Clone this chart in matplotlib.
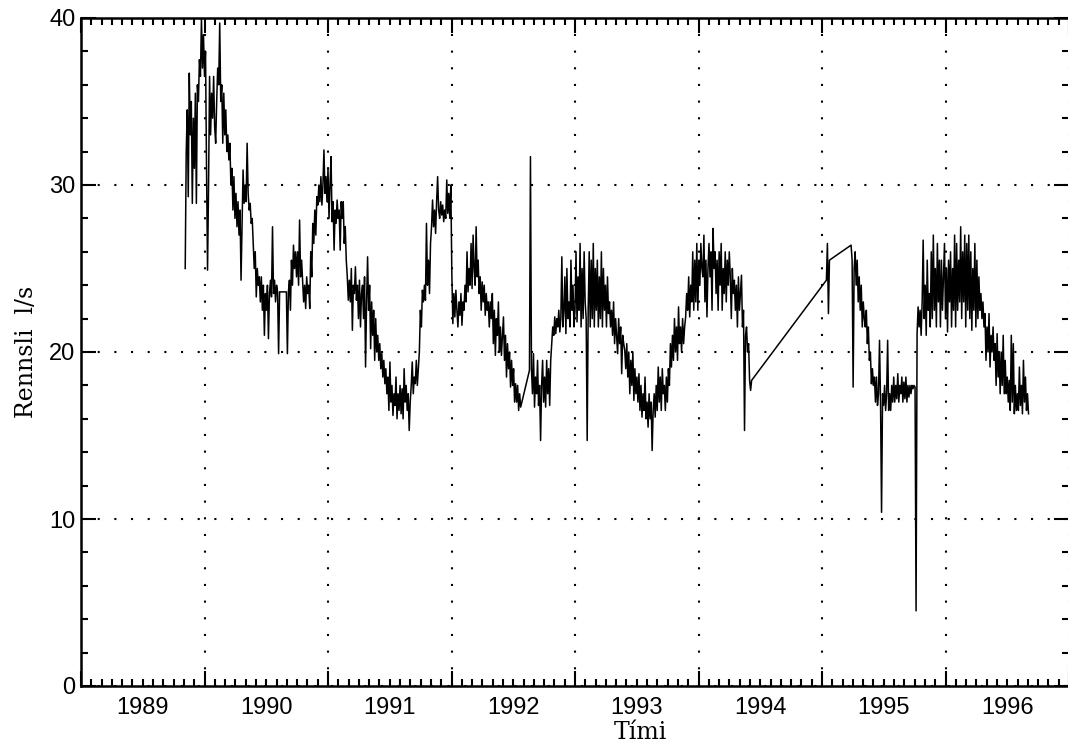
import numpy as np
import pandas as pd
import matplotlib
matplotlib.use("Agg")
import matplotlib.pyplot as plt

# rennsli (l/s), one reading every 3 days, split where the record has gaps
start_1 = "1989-11-05"
flow_1 = [25.0, 32.0, 34.5, 29.3, 36.7, 33.0, 35.0, 28.9, 34.0, 31.0, 35.5, 28.9, 36.0, 35.0,
          37.5, 36.5, 40.0, 37.0, 39.0, 36.5, 38.0, 31.0, 24.9, 30.0, 36.5, 33.0, 35.5, 34.0,
          36.5, 33.5, 32.5, 35.0, 37.0, 36.0, 39.7, 35.0, 36.0, 32.5, 35.5, 33.0, 34.5, 32.0,
          33.0, 31.5, 32.5, 30.0, 31.0, 28.5, 30.5, 28.0, 29.5, 27.5, 29.0, 27.0, 28.5, 24.3,
          27.5, 30.9, 28.9, 30.0, 29.0, 32.5, 29.5, 28.5, 28.9, 27.7, 28.0, 26.5, 25.0, 26.0,
          23.3, 25.0, 24.0, 24.5, 23.0, 24.5, 22.5, 24.0, 21.0, 23.5, 22.5, 24.0, 20.8, 23.5,
          24.3, 23.3, 27.5, 23.5, 24.3, 23.0, 24.0, 23.6, 19.9, 23.6]

start_2 = "1990-08-31"
flow_2 = [23.6, 19.9, 23.6, 24.3, 22.5, 25.5, 24.0, 26.4, 25.0, 26.0, 24.5, 26.0, 24.0,
          27.9, 24.5, 25.5, 24.3, 23.0, 24.0, 22.6, 24.5, 23.5, 24.0,
          22.6, 26.0, 24.5, 27.7, 26.5, 28.5, 27.0, 29.3, 28.8, 30.0,
          29.0, 30.5, 28.8, 30.0, 32.1, 29.5, 30.5, 29.0, 31.0, 28.0,
          30.0, 31.7, 27.8, 29.0, 26.1, 28.5, 27.7, 29.1, 28.0, 28.5,
          26.1, 29.0, 28.0, 29.0, 26.5, 27.5, 25.5, 24.5, 23.1, 24.3,
          23.0, 25.0, 21.3, 24.0, 23.5, 25.1, 23.1, 24.0, 22.0, 24.3,
          21.5, 23.5, 24.0, 22.0, 24.5, 19.1, 23.0, 25.7, 22.5, 24.0,
          20.2, 23.0, 21.0, 22.5, 19.5, 22.0, 20.0, 21.0, 19.5, 20.5,
          19.0, 19.9, 18.5, 19.5, 18.1, 19.0, 17.5, 18.5, 16.5, 19.4,
          17.0, 18.0, 16.2, 17.5, 16.8, 18.5, 16.0, 17.5, 16.5, 18.0,
          16.3, 17.8, 16.0, 19.0, 17.0, 18.0, 16.5, 17.5, 15.3, 17.0,
          18.0, 19.4, 17.5, 18.5, 18.1, 19.5, 18.0, 19.0, 20.0, 22.5,
          21.5, 23.7, 23.0, 24.0, 23.1, 27.7, 24.0, 25.5, 23.5, 26.5,
          27.5, 29.1, 27.5, 28.5, 27.1, 29.0, 30.5, 28.5, 28.0, 29.0,
          28.2, 28.8, 27.8, 28.5, 28.0, 30.3, 28.3, 29.5, 28.0, 30.0,
          24.7, 21.7, 23.5, 22.1, 23.7, 22.5, 21.5, 23.0, 22.2, 23.5,
          21.6, 23.0, 22.5, 24.0, 23.0, 26.0, 23.6, 25.0, 24.0, 26.5,
          23.8, 27.0, 25.0, 24.0, 27.5, 24.5, 25.5, 23.5, 24.5, 22.5,
          24.2, 23.0, 24.0, 22.2, 23.5, 22.5, 23.0, 21.5, 23.0, 22.0,
          23.5, 20.5, 22.5, 19.8, 22.0, 21.0, 23.0, 20.0, 21.5, 19.8,
          21.0, 22.1, 19.5, 21.0, 18.5, 20.5, 19.0, 20.0, 17.9, 19.5,
          18.0, 19.0, 17.0, 18.1, 17.0, 18.0, 16.5, 17.5, 16.7]

start_3 = "1992-08-19"
flow_3 = [18.9, 31.7, 19.0, 17.5, 19.9, 16.7, 18.5, 17.5, 19.5, 16.8,
          18.0, 14.7, 18.0, 19.5, 17.0, 18.5, 16.7, 19.5, 17.5, 19.0,
          16.8, 19.5, 20.5, 21.5, 21.0, 22.1, 21.1, 22.0, 21.5, 22.5,
          21.2, 22.0, 25.7, 21.5, 22.5, 24.5, 21.1, 25.0, 22.0, 23.0,
          21.5, 25.5, 22.5, 24.0, 21.5, 22.5, 26.0, 21.8, 24.5, 22.5,
          26.5, 21.5, 25.0, 22.0, 26.0, 23.0, 22.0, 14.7, 22.5, 26.0,
          21.5, 25.5, 22.0, 26.5, 21.5, 25.0, 22.5, 25.5, 21.5, 24.5,
          22.0, 26.0, 21.5, 25.0, 22.5, 24.0, 21.5, 24.5, 22.3, 23.0,
          21.5, 22.5, 21.0, 23.0, 20.5, 22.0, 21.0, 19.9, 22.0, 20.5,
          21.5, 18.7, 21.0, 20.5, 20.1, 19.0, 20.5, 18.5, 20.0, 17.5,
          19.5, 18.0, 20.0, 17.1, 19.0, 17.5, 18.5, 17.0, 18.7, 16.5,
          18.0, 16.1, 17.5, 16.5, 18.5, 16.0, 17.0, 15.5, 17.5, 16.0,
          17.0, 14.1, 16.5, 17.5, 16.1, 18.0, 16.5, 19.1, 17.0, 18.5,
          16.5, 19.0, 17.5, 18.0, 16.5, 18.5, 17.0, 19.0, 18.0, 20.5,
          19.1, 21.0, 19.5, 22.0, 20.0, 21.5, 19.5, 22.7, 20.5, 21.5,
          20.0, 22.0, 20.5, 21.5, 22.1, 23.5, 22.5, 24.5, 22.1, 24.0,
          23.0, 26.0, 22.5, 25.5, 23.0, 26.5, 22.5, 25.5, 24.0, 26.5,
          25.0, 24.5, 27.0, 23.0, 25.5, 22.1, 25.0, 26.5, 24.5, 26.0,
          22.5, 27.4, 25.0, 26.0, 23.5, 25.5, 22.5, 26.0, 24.0, 26.5,
          22.5, 25.0, 23.5, 26.0, 23.0, 25.5, 24.0, 26.0, 24.5, 22.0,
          25.0, 23.5, 24.3, 22.5, 24.0, 21.5, 24.5, 22.5, 23.5, 24.6,
          21.5, 22.5, 15.3, 21.0, 21.5, 20.0, 20.5, 18.3, 17.7, 18.3]

start_4 = "1995-01-14"
flow_4 = [24.3, 26.5, 22.3, 25.5]

start_5 = "1995-03-28"
flow_5 = [26.4, 25.5, 17.9, 25.0, 26.0, 24.0, 25.5, 23.0,
          24.5, 22.5, 24.0, 21.5, 23.0, 22.0, 21.5, 22.5, 20.5, 21.5,
          19.5, 20.0, 18.1, 19.0, 18.0, 18.5, 17.0, 18.5, 16.8, 17.5,
          20.7, 17.0, 10.4, 17.5, 16.8, 18.0, 16.5, 17.5, 20.7, 16.5,
          17.5, 16.5, 18.0, 17.0, 18.5, 17.0, 18.0, 17.2, 18.7, 17.0,
          18.0, 17.5, 18.5, 17.0, 18.2, 17.2, 18.5, 17.0, 18.0, 17.3,
          18.0, 17.5, 18.0, 17.8, 18.0, 17.9, 4.5, 21.1, 22.7, 21.5,
          22.5, 21.0, 23.0, 26.7, 22.0, 24.0, 21.0, 25.5, 22.5, 23.5,
          21.5, 26.0, 22.0, 27.0, 22.5, 25.0, 21.5, 26.5, 23.0, 25.5,
          21.5, 25.5, 22.5, 24.5, 26.5, 22.0, 25.0, 21.2, 25.5, 23.0,
          26.0, 21.5, 25.0, 22.5, 27.0, 21.5, 26.5, 22.5, 25.5, 23.0,
          27.5, 22.0, 26.0, 23.0, 27.0, 21.5, 26.5, 22.5, 27.0, 22.0,
          26.0, 21.3, 25.0, 22.5, 26.5, 21.5, 25.5, 22.0, 24.5, 22.5,
          23.5, 22.0, 23.0, 21.5, 22.3, 19.5, 21.5, 20.0, 22.3, 19.1,
          21.0, 20.0, 21.5, 19.5, 20.5, 18.0, 21.1, 18.5, 20.0, 17.5,
          20.0, 18.0, 21.0, 17.5, 19.5, 17.5, 18.5, 17.0, 18.3, 16.5,
          21.0, 17.0, 20.5, 16.3, 18.0, 16.5, 17.5, 16.5, 19.1, 16.8,
          18.0, 16.3, 19.5, 17.0, 18.5, 16.5, 17.5, 16.3]

segments = [(start_1, flow_1), (start_2, flow_2), (start_3, flow_3),
            (start_4, flow_4), (start_5, flow_5)]

years = list(range(1989, 1997))


def decimal_year(dates):
    days = np.where(dates.is_leap_year, 366.0, 365.0)
    return dates.year + (dates.dayofyear - 1) / days


t_all = []
q_all = []
for start, flow in segments:
    dates = pd.date_range(start, periods=len(flow), freq="3D")
    t_all.extend(decimal_year(dates))
    q_all.extend(flow)

sans = "Liberation Sans"
serif = "DejaVu Serif"

fig = plt.figure(figsize=(10.68, 7.5), dpi=100)
ax = fig.add_axes([81 / 1068, 1 - 686 / 750, 988 / 1068, 668 / 750])

ax.plot(t_all, q_all, color="black", lw=1.1, zorder=3)

ax.set_xlim(1989, 1997)
ax.set_ylim(0, 40)
ax.set_xticks(np.arange(1989, 1998))
ax.set_xticks(np.arange(1989, 1997 + 1e-9, 1 / 12), minor=True)
ax.set_yticks([0, 10, 20, 30, 40])
ax.set_yticks(np.arange(0, 41, 2), minor=True)
ax.set_yticklabels(["0", "10", "20", "30", "40"], fontfamily=sans, fontsize=17)

ax.tick_params(which="both", direction="in", top=True, right=True,
               labelbottom=False, width=1.5, color="black")
ax.tick_params(which="major", length=11, pad=4)
ax.tick_params(which="minor", length=5)

ax.grid(True, which="major", color="black", lw=1.5, linestyle=(0, (1, 7)))

for sp in ax.spines.values():
    sp.set_linewidth(1.8)

for yr in years:
    ax.text(yr + 0.5, -0.033, str(yr), transform=ax.get_xaxis_transform(),
            ha="center", va="center", fontfamily=sans, fontsize=17)

ax.text((640 - 81) / 988, -0.069, "Tími", transform=ax.transAxes,
        ha="center", va="center", fontfamily=serif, fontsize=17)
ax.text(-0.055, 0.5, "Rennsli  l/s", transform=ax.transAxes, rotation=90,
        ha="center", va="center", fontfamily=serif, fontsize=17)

fig.savefig("out.png", dpi=100)
